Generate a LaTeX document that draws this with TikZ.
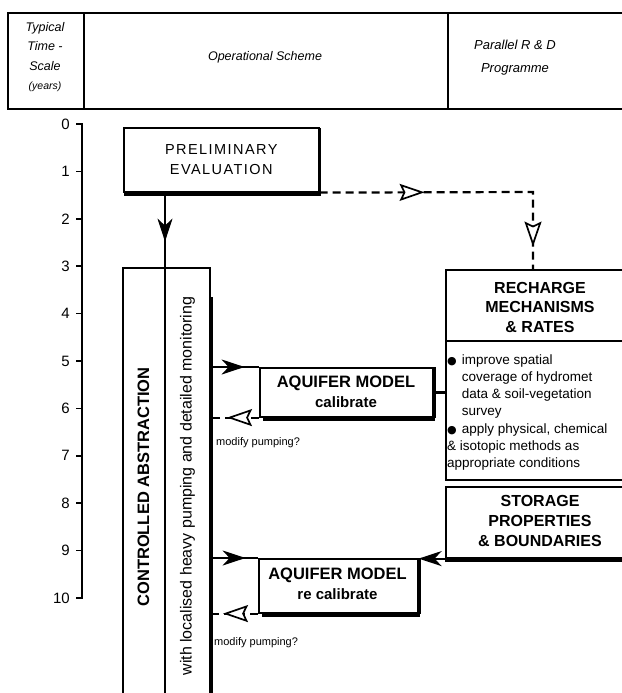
\documentclass[tikz,border=0pt]{standalone}
\usepackage{fontspec}
\setmainfont{Liberation Sans}
\newfontfamily\dejavu{DejaVu Sans}
\usetikzlibrary{arrows.meta,decorations.markings,calc}
\tikzset{
  fillhead/.tip={Stealth[length=23pt,width=15pt,inset=7pt]},
  openhead/.tip={Stealth[length=25pt,width=17pt,inset=4pt,fill=white,line width=1.7pt]},
}
\begin{document}
\begin{tikzpicture}[x=1pt,y=-1pt,
  cell/.style={draw,line width=1.8pt,rectangle,inner sep=0pt,anchor=north west},
  box/.style={draw,line width=1.6pt,rectangle,inner sep=0pt,anchor=north west},
  shade/.style={line width=4pt},
  conn/.style={line width=2pt},
  dconn/.style={line width=2.2pt,dash pattern=on 8pt off 5pt},
  axisline/.style={line width=1.6pt},
  midfill/.style={postaction={decorate},decoration={markings,mark=at position #1 with {\arrow{fillhead}}}},
  midopen/.style={postaction={decorate},decoration={markings,mark=at position #1 with {\arrow{openhead}}}},
  hdtext/.style={font=\itshape\fontsize{12.5}{19.5}\selectfont,align=center,inner sep=0pt},
  titletext/.style={font=\bfseries\fontsize{16}{19.5}\selectfont,align=center,inner sep=0pt},
  modeltext/.style={font=\bfseries\fontsize{16.5}{20}\selectfont,align=center,inner sep=0pt},
  smalltext/.style={font=\fontsize{11}{12}\selectfont,anchor=west,inner sep=0pt},
  ticktext/.style={font=\fontsize{15}{15}\selectfont,anchor=east,inner sep=0pt},
]
\useasboundingbox (0,0) rectangle (621,693);
\fill[white] (0,0) rectangle (621,693);

% header
\node[cell,minimum width=76pt,minimum height=96pt] (hdtime) at (7,12) {};
\node[cell,minimum width=364pt,minimum height=96pt] (hdop) at (83,12) {};
\node[cell,minimum width=200pt,minimum height=96pt] (hdrd) at (447,12) {};
\node[hdtext,font=\itshape\fontsize{12.5}{19.5}\selectfont] (tTime) at (45,57) {Typical\\Time -\\Scale\\{\fontsize{10.5}{10}\selectfont (years)}};
\node[hdtext] (tOp) at (265,57) {Operational Scheme};
\node[hdtext,font=\itshape\fontsize{13}{23}\selectfont] (tRD) at (515,58) {Parallel R \& D\\Programme};

% time axis
\draw[axisline] (76,124) -- (82,124) -- (82,598) -- (76,598);
\foreach \k in {0,...,10} {
  \draw[axisline] (76,124+47.4*\k) -- (82,124+47.4*\k);
  \node[ticktext] (tick\k) at (70,124+47.4*\k) {\k};
}

% preliminary evaluation
\node[box,minimum width=195pt,minimum height=64pt,
  font=\fontsize{14.5}{20}\selectfont\addfontfeatures{LetterSpace=10},align=center] (prelim) at (123,127) {PRELIMINARY\\EVALUATION};
\draw[shade] ($(prelim.south west)+(1,1)$) -- ($(prelim.south east)+(1,1)$);
\draw[line width=2.5pt] ($(prelim.north east)+(0.5,1)$) -- ($(prelim.south east)+(0.5,0)$);

% controlled abstraction
\node[box,minimum width=87pt,minimum height=440pt] (ctrl) at (122,267) {};
\coordinate (div) at (165,267);
\draw[line width=1.8pt] (div) -- (div |- ctrl.south);
\draw[line width=3.5pt] ($(ctrl.north east)+(0.5,30)$) -- ($(ctrl.south east)+(0.5,0)$);
\node[rotate=90,font=\bfseries\fontsize{16.5}{16}\selectfont,inner sep=0pt] (ctrltext) at (143.5,487) {CONTROLLED ABSTRACTION};
\node[rotate=90,font=\fontsize{16}{16}\selectfont,inner sep=0pt] (ctrlsub) at (187.5,486) {with localised heavy pumping and detailed monitoring};

\draw[conn,midfill=49pt] (prelim.south -| div) -- (div);

% recharge mechanisms
\node[box,minimum width=195pt,minimum height=210pt] (recharge) at (445,269) {};
\node[titletext] (rtitle) at (540,307) {RECHARGE\\MECHANISMS\\\& RATES};
\draw[line width=1.8pt] (recharge.west |- 0,341) -- (recharge.east |- 0,341);
\node[anchor=north west,inner sep=0pt,font=\fontsize{13.5}{17}\selectfont] (rbul) at (447,352)
{\begin{tabular}{@{}l@{\hspace{5pt}}l@{}}
{\dejavu\fontsize{11}{11}\selectfont ●} & improve spatial\\
 & coverage of hydromet\\
 & data \& soil-vegetation\\
 & survey\\[1.5pt]
{\dejavu\fontsize{11}{11}\selectfont ●} & apply physical, chemical\\
\multicolumn{2}{@{}l@{}}{\& isotopic methods as}\\
\multicolumn{2}{@{}l@{}}{appropriate conditions}
\end{tabular}};

% storage properties
\node[box,minimum width=195pt,minimum height=71pt] (storage) at (445,486) {};
\node[titletext,font=\bfseries\fontsize{16}{20}\selectfont] (stitle) at (540,521) {STORAGE\\PROPERTIES\\\& BOUNDARIES};
\draw[shade] ($(storage.south west)+(0,1)$) -- ($(storage.south east)+(0,1)$);

% aquifer model 1
\node[box,minimum width=173pt,minimum height=49pt] (aq1) at (259,367) {};
\node[modeltext] (aq1text) at (346,392) {AQUIFER MODEL\\{\fontsize{15}{15}\selectfont calibrate}};
\draw[shade] ($(aq1.south west)+(4,1)$) -- ($(aq1.south east)+(1,1)$);
\draw[line width=3pt] ($(aq1.north east)+(0.7,0)$) -- ($(aq1.south east)+(0.7,0)$);

% aquifer model 2
\node[box,minimum width=159pt,minimum height=54pt] (aq2) at (258,558) {};
\node[modeltext] (aq2text) at (337.5,584) {AQUIFER MODEL\\{\fontsize{15}{15}\selectfont re calibrate}};
\draw[shade] ($(aq2.south west)+(4,1)$) -- ($(aq2.south east)+(1,1)$);
\draw[line width=3pt] ($(aq2.north east)+(0.7,0)$) -- ($(aq2.south east)+(0.7,0)$);

% connectors
\coordinate (rcorner) at (533,192);
\draw[dconn,postaction={decorate},decoration={markings,
   mark=at position 105pt with {\arrow{openhead}},
   mark=at position 268pt with {\arrow{openhead}}}]
  (prelim.south east) -- (rcorner) -- (recharge.north -| rcorner);

\draw[conn,midfill=34pt] (ctrl.east |- aq1.north west) -- (aq1.north west);
\draw[dconn,midopen=32pt] (aq1.south west) -- (ctrl.east |- aq1.south west);
\draw[line width=2.5pt] (aq1.east) -- (aq1.east -| recharge.west);

\draw[conn,midfill=35pt] (ctrl.east |- aq2.north west) -- (aq2.north west);
\draw[conn,-{fillhead}] (storage.south west) -- (storage.south west -| aq2.north east);
\draw[dconn,midopen=35pt] (aq2.south west) -- (ctrl.east |- aq2.south west);

\node[smalltext] (mod1) at (216,443) {modify pumping?};
\node[smalltext] (mod2) at (214,643) {modify pumping?};
\end{tikzpicture}
\end{document}
